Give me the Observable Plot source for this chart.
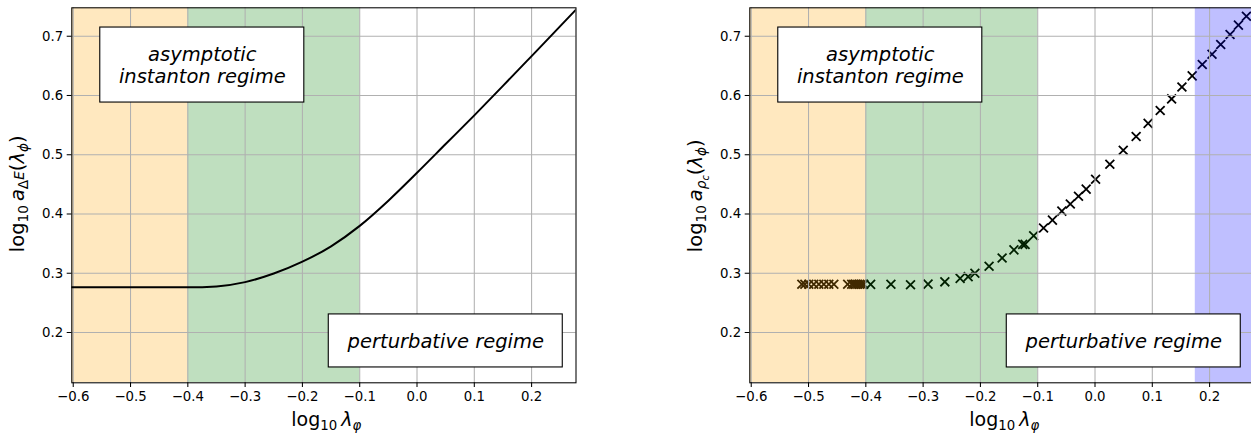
<!DOCTYPE html>
<html>
<head>
<meta charset="utf-8">
<script src="https://cdn.jsdelivr.net/npm/d3@7"></script>
<script src="https://cdn.jsdelivr.net/npm/@observablehq/plot@0.6"></script>
<style>
  html, body { margin: 0; padding: 0; background: #fff; }
  body { width: 1251px; height: 433px; overflow: hidden; position: relative; font-family: "DejaVu Sans", sans-serif; }
  .panel { position: absolute; top: 0; width: 700px; height: 433px; }
  .panel svg { max-width: none !important; height: 433px !important; display: block; }
  #left { left: 0px; }
  #right { left: 677.5px; }
</style>
</head>
<body>
<div id="left" class="panel"></div>
<div id="right" class="panel"></div>
<script>
// ---------- data ----------
const xTicks = [-0.6, -0.5, -0.4, -0.3, -0.2, -0.1, 0.0, 0.1, 0.2];
const yTicks = [0.2, 0.3, 0.4, 0.5, 0.6, 0.7];
const xDomain = [-0.6025, 0.2775];
const yDomain = [0.1151, 0.748];

// left panel: continuous curve log10 a_ΔE
const curveX = [-0.6025, -0.55, -0.5, -0.45, -0.4, -0.35, -0.3, -0.25, -0.2, -0.15, -0.1, -0.05, 0.0, 0.05, 0.1, 0.15, 0.2, 0.25, 0.2775];
const curveY = [0.2763, 0.2763, 0.2763, 0.2763, 0.2763, 0.2778, 0.2850, 0.2995, 0.3195, 0.3455, 0.3800, 0.4225, 0.4695, 0.5180, 0.5665, 0.6162, 0.6665, 0.7170, 0.7450];

// right panel: sampled points log10 a_ρc
const pointsX = [-0.5117, -0.5064, -0.4995, -0.4908, -0.4820, -0.4733, -0.4646, -0.4558,
  -0.4317, -0.4247, -0.4212, -0.4177, -0.4142, -0.4107, -0.4072, -0.4037,
  -0.3916, -0.3562, -0.3220, -0.2914, -0.2621, -0.2354, -0.2214, -0.2096, -0.1849, -0.1621,
  -0.1415, -0.1262, -0.1220, -0.1071, -0.0898, -0.0743, -0.0579, -0.0431, -0.0288, -0.0154,
  0.0010, 0.0259, 0.0493, 0.0718, 0.0927, 0.1138, 0.1337, 0.1517, 0.1696, 0.1872, 0.2042,
  0.2194, 0.2357, 0.2503, 0.2643];
const pointsY = [0.2815, 0.2815, 0.2815, 0.2815, 0.2815, 0.2815, 0.2815, 0.2815,
  0.2815, 0.2815, 0.2815, 0.2815, 0.2815, 0.2815, 0.2815, 0.2815,
  0.2812, 0.2814, 0.2806, 0.2816, 0.2855, 0.2913, 0.2942, 0.3000, 0.3118, 0.3257,
  0.3395, 0.3487, 0.3487, 0.3633, 0.3763, 0.3897, 0.4048, 0.4168, 0.4299, 0.4420,
  0.4586, 0.4839, 0.5075, 0.5308, 0.5530, 0.5747, 0.5942, 0.6143, 0.6331, 0.6522, 0.6696,
  0.6860, 0.7029, 0.7188, 0.7337];

// shaded regimes
const regionStart = [-1, -0.4, 0.175];
const regionEnd   = [-0.4, -0.1, 1];
const regionColor = ["#ffa500", "#008000", "#0000ff"];

// annotation boxes
const boxText = ["asymptotic\ninstanton regime", "perturbative regime"];
const boxX1 = [-0.5528, -0.1540];
const boxX2 = [-0.1967, 0.2544];
const boxY1 = [0.5881, 0.1410];
const boxY2 = [0.7147, 0.2305];

// ---------- helpers ----------
const curve = curveX.map((x, i) => ({x, y: curveY[i]}));
const points = pointsX.map((x, i) => ({x, y: pointsY[i]}));
const regions = regionStart.map((s, i) => ({s, e: regionEnd[i], c: regionColor[i]}));
const boxes = boxText.map((t, i) => ({t, x1: boxX1[i], x2: boxX2[i], y1: boxY1[i], y2: boxY2[i]}));
const fmt = d => d.toFixed(1).replace("-", "\u2212");

const ML = 71.3, MT = 7.3, MB = 50.7, PW = 504.2;

function basePlot(regs, dataMarks, under) {
  const regionMark = Plot.rect(regs, {x1: "s", x2: "e", fill: "c", fillOpacity: 0.25, clip: true});
  const marks = [];
  if (under) { marks.push(...dataMarks, regionMark); } else { marks.push(regionMark); }
  marks.push(
    Plot.gridX(xTicks, {stroke: "#b0b0b0", strokeOpacity: 1, strokeWidth: 1.05}),
    Plot.gridY(yTicks, {stroke: "#b0b0b0", strokeOpacity: 1, strokeWidth: 1.05})
  );
  if (!under) marks.push(...dataMarks);
  marks.push(
    Plot.frame({stroke: "black", strokeWidth: 1.05}),
    Plot.rect(boxes, {x1: "x1", x2: "x2", y1: "y1", y2: "y2", fill: "white", stroke: "black", strokeWidth: 1.1}),
    Plot.text(boxes, {x: d => (d.x1 + d.x2) / 2, y: d => (d.y1 + d.y2) / 2, text: "t",
      fontSize: 19.5, fontStyle: "italic", fill: "black", lineHeight: 1.13, fontFamily: "DejaVu Sans"}),
    Plot.axisX(xTicks, {tickFormat: fmt, tickSize: 4.6, tickPadding: 4, fontSize: 13.3, label: null, stroke: "black", strokeWidth: 1.05, fill: "black"}),
    Plot.axisY(yTicks, {tickFormat: fmt, tickSize: 4.6, tickPadding: 4, fontSize: 13.3, label: null, stroke: "black", strokeWidth: 1.05, fill: "black"})
  );
  return Plot.plot({
    width: ML + PW + 12, height: 433,
    marginLeft: ML, marginRight: 12, marginTop: MT, marginBottom: MB,
    x: {domain: xDomain}, y: {domain: yDomain},
    style: {fontFamily: "DejaVu Sans", fontSize: "13.3px", color: "black", background: "transparent", overflow: "visible"},
    marks
  });
}

// math-like label built from tspans, centred on (x, y)
function addLabel(svg, x, y, rotate, parts, FS) {
  const g = d3.select(svg).append("g");
  const t = g.append("text")
    .attr("font-family", "DejaVu Sans")
    .attr("font-size", FS)
    .attr("text-anchor", "start")
    .attr("fill", "black");
  let cur = 0;
  for (const p of parts) {
    const ts = t.append("tspan").text(p.t);
    ts.attr("font-size", FS * (p.s || 1));
    if (p.i) ts.attr("font-style", "italic");
    const sh = p.sh || 0;
    if (sh !== cur) { ts.attr("dy", sh - cur); cur = sh; }
    if (p.dx) ts.attr("dx", p.dx);
  }
  const bb = t.node().getBBox();
  t.attr("x", -bb.width / 2 - bb.x);
  g.attr("transform", `translate(${x},${y}) rotate(${rotate})`);
}

// ---------- left panel ----------
const left = basePlot(regions.slice(0, 2), [
  Plot.line(curve, {x: "x", y: "y", stroke: "black", strokeWidth: 2, curve: "monotone-x", clip: true})
], false);
document.getElementById("left").appendChild(left);

// ---------- right panel ----------
const right = basePlot(regions, [
  Plot.dot(points, {x: "x", y: "y", symbol: "times", r: 4.1, stroke: "black", strokeWidth: 1.8})
], true);
document.getElementById("right").appendChild(right);

const cx = ML + PW / 2, cy = MT + (433 - MT - MB) / 2;
const xLabel = [
  {t: "log"}, {t: "10", s: 0.7, sh: 4}, {t: "\u03bb", i: true, sh: 0, dx: 4}, {t: "\u03c6", s: 0.7, i: true, sh: 4}
];
addLabel(left, cx + 3, 426, 0, xLabel, 19);
addLabel(right, cx + 3, 426, 0, xLabel, 19);

addLabel(left, 24, cy - 1, -90, [
  {t: "log"}, {t: "10", s: 0.7, sh: 4}, {t: "a", i: true, sh: 0, dx: 4},
  {t: "\u0394", s: 0.7, sh: 4}, {t: "E", s: 0.7, i: true},
  {t: "(", sh: 0}, {t: "\u03bb", i: true}, {t: "\u03d5", s: 0.7, i: true, sh: 4}, {t: ")", sh: 0}
], 19.5);
addLabel(right, 24, cy + 1, -90, [
  {t: "log"}, {t: "10", s: 0.7, sh: 4}, {t: "a", i: true, sh: 0, dx: 4},
  {t: "\u03c1", s: 0.7, i: true, sh: 4}, {t: "c", s: 0.5, i: true, sh: 7},
  {t: "(", sh: 0}, {t: "\u03bb", i: true}, {t: "\u03d5", s: 0.7, i: true, sh: 4}, {t: ")", sh: 0}
], 19.5);
</script>
</body>
</html>
